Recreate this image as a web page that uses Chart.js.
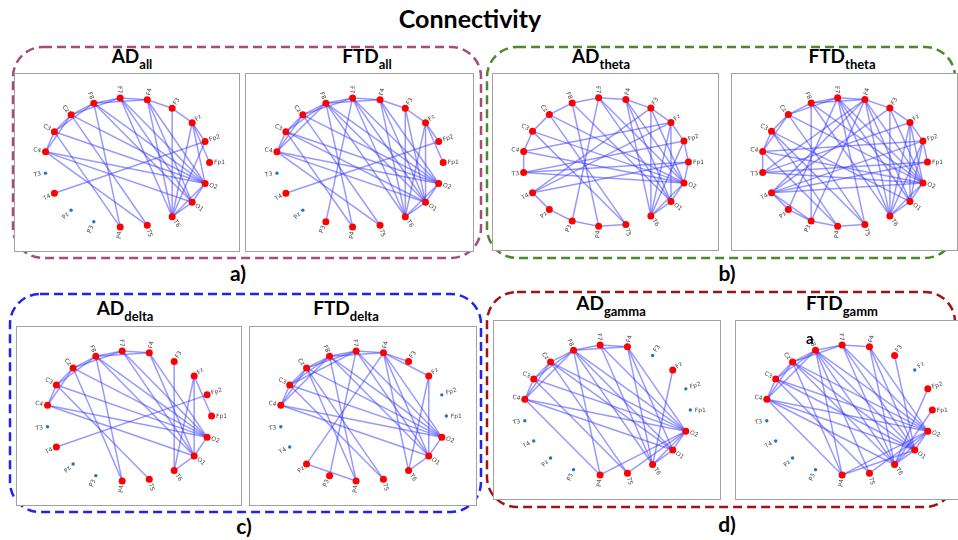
<!DOCTYPE html>
<html><head><meta charset="utf-8">
<script src="https://cdn.jsdelivr.net/npm/chart.js@4.4.1/dist/chart.umd.min.js"></script>
<style>
html,body{margin:0;padding:0;background:#fff;width:958px;height:540px;overflow:hidden;position:relative;font-family:Lato,'Open Sans',sans-serif;}
svg.bg{position:absolute;left:0;top:0;z-index:0;}
canvas{position:absolute;z-index:1;background:#fff;}
.frame{position:absolute;border:1.5px solid #a0a0a0;box-sizing:border-box;pointer-events:none;z-index:2;}
.note{position:absolute;z-index:3;font:700 15px Lato,sans-serif;color:#000;}
</style></head><body>

<svg class="bg" width="958" height="540" font-family="Lato, 'Open Sans', sans-serif">
  <g fill="none" stroke-width="2.5" stroke-dasharray="9 5">
    <rect x="13" y="47" width="468" height="211" rx="30" ry="30" stroke="#a64b7e"/>
    <rect x="487" y="47" width="468" height="211" rx="30" ry="30" stroke="#4a8a2c"/>
    <rect x="10" y="294" width="471" height="218" rx="30" ry="30" stroke="#1e24f2"/>
    <rect x="487" y="292" width="468" height="215" rx="30" ry="30" stroke="#a01313"/>
  </g>
  <g font-weight="700" fill="#000" text-anchor="middle">
    <text x="470" y="28" font-size="25">Connectivity</text>
    <text x="132" y="63" font-size="19">AD<tspan font-size="13" dy="6">all</tspan></text>
    <text x="367" y="63" font-size="19">FTD<tspan font-size="13" dy="6">all</tspan></text>
    <text x="601" y="63" font-size="19">AD<tspan font-size="13" dy="6">theta</tspan></text>
    <text x="842" y="63" font-size="19">FTD<tspan font-size="13" dy="6">theta</tspan></text>
    <text x="125" y="315" font-size="19">AD<tspan font-size="13" dy="6">delta</tspan></text>
    <text x="346" y="315" font-size="19">FTD<tspan font-size="13" dy="6">delta</tspan></text>
    <text x="611" y="310" font-size="19">AD<tspan font-size="13" dy="6">gamma</tspan></text>
    <text x="842" y="310" font-size="19">FTD<tspan font-size="13" dy="6">gamm</tspan></text>
    <text x="238" y="281" font-size="21">a)</text>
    <text x="727" y="281" font-size="21">b)</text>
    <text x="244" y="534" font-size="21">c)</text>
    <text x="727" y="532" font-size="21">d)</text>
  </g>
</svg>
<div class="note" style="left:806px;top:329px;">a</div>

<script>
// ---- DATA ----
const nodeLabels = ['Fp1','Fp2','Fz','F3','F4','F7','F8','Cz','C3','C4','T3','T4','Pz','P3','P4','T5','T6','O1','O2'];

const adAllEdges = ['C4-C3','C4-Cz','C3-Cz','C3-F8','Cz-F8','Cz-F7','F8-F7','F8-F4','F7-F4','F4-F3','F3-Fz','Fz-Fp2','Fz-Fp1',
  'C4-O2','C4-O1','C3-O2','C3-P4','C4-T5','Cz-T5','Cz-O2','F8-P4','F8-O2','F8-O1','F7-T6','F7-O1','F7-O2',
  'F4-T6','F4-O1','F4-O2','F3-T6','Fz-T6','Fz-O2','Fp2-T4','Fp2-T6','O2-O1','O2-T6','O1-T6'];

const ftdAllEdges = ['C4-C3','C4-Cz','C4-F8','C3-Cz','C3-F8','Cz-F8','Cz-F7','F8-F7','F8-F4','F7-F4','F4-F3','F3-Fz','Fz-Fp2','Fz-Fp1',
  'C4-O2','C4-O1','C4-T5','C3-O2','C3-O1','C3-P4','Cz-T5','Cz-O2','F8-P4','F8-O2','F8-O1','F8-T6','F7-P3','F7-T6','F7-O1','F7-O2',
  'F4-T6','F4-O1','F4-O2','F3-T6','F3-O1','Fz-T6','Fz-O1','Fp2-T4','O2-O1','O2-T6','O1-T6'];

const adThetaEdges = ['C4-C3','C3-Cz','Cz-F8','F8-F7','F7-F4','F4-F3','F3-Fz','Fz-Fp2','Fp2-Fp1','C4-T3','T4-Pz','Pz-P3','P3-P4','P4-T5',
  'T3-Fp1','T3-O2','T3-Fp2','T4-Fz','T4-F3','T4-Fp1','C4-Fz','C4-O2','C3-T5','C3-O2','Cz-T5','Cz-O2','F8-P4','F8-O1',
  'F7-P3','F7-O2','F7-O1','F4-O2','F4-O1','F4-T6','F3-T6','F3-O2','Fz-T6','Fz-O1','Fp2-T6','O2-O1','O2-T6','O1-T6','Fp1-O2'];

const ftdThetaEdges = ['C4-C3','C3-Cz','Cz-F8','F8-F7','F7-F4','F4-F3','F3-Fz','Fz-Fp2','Fp2-Fp1','C4-Cz','Cz-F7','F8-F4','C4-T3',
  'T4-Pz','Pz-P3','P3-P4','P4-T5','T4-P3','T3-Fp1','T3-O2','T3-Fz','T3-F4','T4-Fp2','T4-F3','T4-F4','T4-O2','C4-O2','C4-P4',
  'C4-Fp2','C3-P4','C3-O1','C3-T5','Cz-T5','Cz-O2','F8-P3','F8-O2','F8-T6','F7-Pz','F7-T5','F7-T6','F7-O1','F7-O2','F4-P3',
  'F4-T6','F4-O1','F4-O2','F3-T6','F3-O2','Fz-T6','Fz-O1','Fz-O2','Fp2-O1','Fp2-T6','Fp1-T4','O2-O1','O1-T6','O2-T6'];

const adDeltaEdges = ['C4-C3','C4-Cz','C3-Cz','C3-F8','Cz-F8','Cz-F7','F8-F7','F8-F4','F7-F4',
  'T4-Fp2','C4-O2','C4-O1','C3-O2','C3-T5','Cz-P4','Cz-O2','F8-P4','F8-O2','F8-O1','F7-O1','F7-O2',
  'F4-O1','F4-O2','F3-T6','Fz-T6','Fz-O1','Fz-Fp1','O2-O1','O1-T6'];

const ftdDeltaEdges = ['C4-C3','C4-Cz','C4-F8','C3-Cz','C3-F8','Cz-F8','Cz-F7','F8-F7','F8-F4','F7-F4','C3-F7','F4-F3','F4-Fz',
  'Pz-P4','Pz-F4','P3-F7','P4-Cz','P4-F8','T5-C3','T5-Cz','C4-O2','C4-O1','C3-O2','Cz-O2','F8-O2','F8-O1',
  'F7-O2','F7-O1','F4-O2','F4-T6','F4-O1','Fz-T6','Fz-O1','T6-O1','O1-O2'];

const adGammaEdges = ['C4-C3','C4-Cz','C4-F8','C3-Cz','C3-F8','Cz-F8','F8-F7','F7-F4','F8-F4',
  'C4-P4','C4-O2','C4-O1','C3-O2','C3-T5','Cz-O2','Cz-T5','Cz-O1','F8-P4','F8-O2','F8-O1','F8-T6',
  'F7-O2','F7-T6','F4-O2','F4-O1','F4-T6','Fz-T6','O2-O1','O2-T6','O2-T5','O2-P4','O1-T6'];

const ftdGammaEdges = ['C4-C3','C4-Cz','C4-F8','C3-Cz','C3-F8','Cz-F8','F8-F7','F7-F4','Cz-F7',
  'C4-P4','C4-T6','C4-O1','C4-O2','C3-T5','C3-O1','C3-O2','Cz-P4','Cz-T6','Cz-O1','Cz-O2','F8-P4','F8-T5',
  'F8-T6','F8-O1','F8-O2','F7-T6','F7-O1','F7-O2','F4-T6','F4-O1','F4-O2','F3-O1','Fp2-T6','Fp1-T6',
  'P4-O2','T5-O2','T6-O1','T6-O2','O1-O2','P4-O1'];

// ---- LAYOUT ----
const panels = [
  {edges: adAllEdges,    left:14,  top:73,  w:226, h:179},
  {edges: ftdAllEdges,   left:245, top:73,  w:229, h:179},
  {edges: adThetaEdges,  left:492, top:73,  w:227, h:178},
  {edges: ftdThetaEdges, left:731, top:73,  w:227, h:178},
  {edges: adDeltaEdges,  left:16,  top:326, w:226, h:180},
  {edges: ftdDeltaEdges, left:249, top:326, w:228, h:180},
  {edges: adGammaEdges,  left:493, top:320, w:228, h:180},
  {edges: ftdGammaEdges, left:735, top:320, w:228, h:180}
];

const N = nodeLabels.length;
function nodePos(name){
  const i = nodeLabels.indexOf(name);
  const a = i * 2 * Math.PI / N;
  return {x: Math.cos(a), y: Math.sin(a)};
}

const labelPlugin = {
  id: 'nodeLabels',
  afterDatasetsDraw(chart){
    const ctx = chart.ctx, xs = chart.scales.x, ys = chart.scales.y;
    ctx.save();
    ctx.font = '6px "DejaVu Sans", Arial, sans-serif';
    ctx.fillStyle = '#444';
    ctx.textBaseline = 'middle';
    nodeLabels.forEach((name, i) => {
      const a = i * 2 * Math.PI / N;
      const px = xs.getPixelForValue(Math.cos(a));
      const py = ys.getPixelForValue(Math.sin(a));
      const dx = Math.cos(a), dy = -Math.sin(a);
      ctx.save();
      ctx.translate(px + dx * 4.5, py + dy * 4.5);
      let rot = -a;
      if (Math.cos(a) < -1e-6) { rot += Math.PI; ctx.textAlign = 'right'; } else { ctx.textAlign = 'left'; }
      ctx.rotate(rot);
      ctx.fillText(name, 0, 0);
      ctx.restore();
    });
    ctx.restore();
  }
};

panels.forEach(p => {
  const cv = document.createElement('canvas');
  cv.width = p.w; cv.height = p.h;
  cv.style.left = p.left + 'px'; cv.style.top = p.top + 'px';
  document.body.appendChild(cv);
  const fr = document.createElement('div');
  fr.className = 'frame';
  fr.style.left = p.left + 'px'; fr.style.top = p.top + 'px';
  fr.style.width = p.w + 'px'; fr.style.height = p.h + 'px';
  document.body.appendChild(fr);

  const used = new Set();
  const datasets = p.edges.map(e => {
    const [a, b] = e.split('-');
    used.add(a); used.add(b);
    return {data: [nodePos(a), nodePos(b)], showLine: true, borderColor: 'rgba(60,60,250,0.52)',
            borderWidth: 1.5, pointRadius: 0, tension: 0, order: 2};
  });
  datasets.push({data: nodeLabels.filter(n => used.has(n)).map(nodePos), showLine: false,
    pointRadius: 3.5, backgroundColor: '#ff0000', borderColor: '#ff0000', borderWidth: 0, order: 0});
  datasets.push({data: nodeLabels.filter(n => !used.has(n)).map(nodePos), showLine: false,
    pointRadius: 1.7, backgroundColor: '#1a78c2', borderColor: '#1a78c2', borderWidth: 0, order: 1});

  new Chart(cv, {
    type: 'scatter',
    data: {datasets},
    options: {
      responsive: false, animation: false, events: [], devicePixelRatio: 1,
      layout: {padding: 0},
      plugins: {legend: {display: false}, tooltip: {enabled: false}},
      scales: {
        x: {display: false, min: -1.32, max: 1.32},
        y: {display: false, min: -1.32, max: 1.32}
      }
    },
    plugins: [labelPlugin]
  });
});
</script>
</body></html>
